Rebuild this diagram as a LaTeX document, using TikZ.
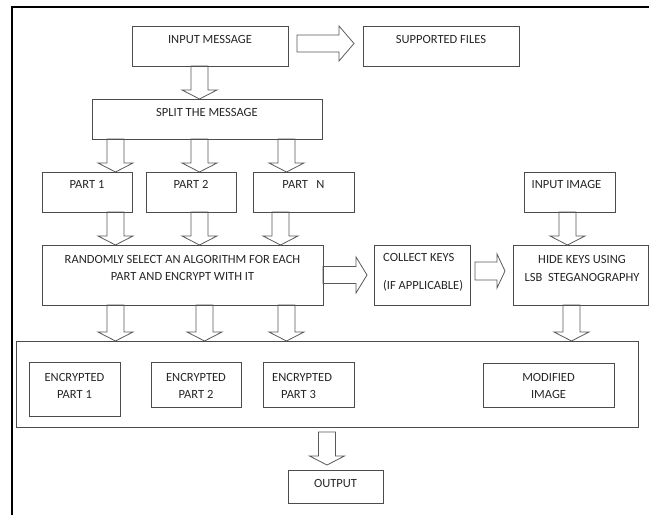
\documentclass[tikz,border=0pt]{standalone}
\usepackage{fontspec}
\setmainfont{Carlito}
\usepackage{tikz}
\usetikzlibrary{calc}

\begin{document}
\begin{tikzpicture}[
  x=1pt, y=-1pt,
  box/.style 2 args={
    draw=black!70,
    line width=0.9pt,
    minimum width=#1,
    minimum height=#2,
    inner sep=0pt,
    outer sep=0pt},
  lbl/.style={
    anchor=north,
    inner sep=0pt,
    align=center,
    text=black!85,
    font=\fontsize{12.5}{17.5}\selectfont},
  pageframe/.style={
    draw=black, line width=1.2pt},
  blk/.style n args={3}{
    draw=black!65, line width=0.8pt,
    to path={
      ($(\tikztostart)!#1!90:(\tikztotarget)$)
      -- ($(\tikztotarget)!#3!(\tikztostart)!#1!90:(\tikztotarget)$)
      -- ($(\tikztotarget)!#3!(\tikztostart)!#2!90:(\tikztotarget)$)
      -- (\tikztotarget)
      -- ($(\tikztotarget)!#3!(\tikztostart)!#2!-90:(\tikztotarget)$)
      -- ($(\tikztotarget)!#3!(\tikztostart)!#1!-90:(\tikztotarget)$)
      -- ($(\tikztostart)!#1!-90:(\tikztotarget)$)
      -- cycle}},
  dn/.style={blk={8.5pt}{17.5pt}{9pt}},
]

  \useasboundingbox (0,0) rectangle (649,515);
  \draw[pageframe] (12,515) -- (12,7) -- (649,7);

    % Message boxes
    \node[box={156pt}{40pt}] (inmsg) at (210,46) {};
    \node[lbl] at ($(inmsg.north)+(0,9)$) {INPUT MESSAGE};
    \node[box={156pt}{40pt}] (supp) at (441,46) {};
    \node[lbl] at ($(supp.north)+(0,9)$) {SUPPORTED FILES};
    \node[box={230pt}{40pt}] (split) at (207,119) {};
    \node[lbl] at ($(split.north)+(0,9)$) {SPLIT THE MESSAGE};

    % Parts
    \node[box={90pt}{40pt}] (part1) at (87,192) {};
    \node[lbl] at ($(part1.north)+(0,8.5)$) {PART 1};
    \node[box={90pt}{40pt}] (part2) at (191,192) {};
    \node[lbl] at ($(part2.north)+(0,8.5)$) {PART 2};
    \node[box={101pt}{40pt}] (partn) at (303.5,192) {};
    \node[lbl] at ($(partn.north)+(0,8.5)$) {PART\ \ \ N};
    \node[box={91pt}{40pt}] (inimg) at (569.5,192) {};
    \node[lbl] at ($(inimg.north)+(-3,8.5)$) {INPUT IMAGE};

    % Encryption and keys
    \node[box={281pt}{60pt}] (rand) at (182.5,275) {};
    \node[lbl] at ($(rand.north)+(0,10)$)
        {RANDOMLY SELECT AN ALGORITHM FOR EACH\\PART AND ENCRYPT WITH IT};
    \node[box={96pt}{60pt}] (collect) at (422,275) {};
    \node[lbl,align=left,anchor=north west] at ($(collect.north west)+(9,8)$)
        {COLLECT KEYS\\[10.5pt](IF APPLICABLE)};
    \node[box={135pt}{60pt}] (hide) at (580.5,275) {};
    \node[lbl] at ($(hide.north)+(1.5,10.5)$)
        {HIDE KEYS USING\\LSB\ \ STEGANOGRAPHY};

    % Result
    \node[box={622pt}{86pt}] (cont) at (327,384) {};
    \node[box={91pt}{54pt}] (enc1) at (74.5,389) {};
    \node[lbl] at ($(enc1.north)+(0,11)$) {ENCRYPTED\\PART 1};
    \node[box={90pt}{45pt}] (enc2) at (196,384.5) {};
    \node[lbl] at ($(enc2.north)+(0,11)$) {ENCRYPTED\\PART 2};
    \node[box={91pt}{45pt}] (enc3) at (308.5,384.5) {};
    \node[lbl,align=left,anchor=north west] at ($(enc3.north west)+(9,11)$)
        {ENCRYPTED\\\hspace*{9pt}PART 3};
    \node[box={131pt}{44pt}] (modimg) at (548.5,385) {};
    \node[lbl] at ($(modimg.north)+(0,10)$) {MODIFIED\\IMAGE};
    \node[box={95pt}{33pt}] (output) at (335.5,486.5) {};
    \node[lbl] at ($(output.north)+(0,9)$) {OUTPUT};

    % Block arrows
    \draw[blk={8.5pt}{17.5pt}{15pt}] ($(inmsg.east)+(9,-2.5)$) 
        to ($(supp.west)+(-9,-2.5)$);
    \draw[dn] (inmsg.south -| 199.5,0) to (split.north -| 199.5,0);
    \foreach \xx/\pp in {115.5/part1, 199.5/part2, 286.5/partn} {
        \draw[dn] (split.south -| \xx,0) to (\pp.north -| \xx,0);
    }
    \foreach \xx/\pp in {115.5/part1, 199.5/part2, 280.5/partn} {
        \draw[dn] (\pp.south -| \xx,0) to (rand.north -| \xx,0);
    }
    \foreach \xx in {115.5, 204.5, 286.5} {
        \draw[dn] (rand.south -| \xx,0) to (cont.north -| \xx,0);
    }
    \draw[blk={8.5pt}{18pt}{11pt}] (rand.east) to ($(collect.west)+(-7,0)$);
    \draw[blk={9pt}{17pt}{8pt}] ($(collect.east)+(5,-4)$) 
        to ($(hide.west)+(-8,-4)$);
    \draw[dn] (inimg.south -| 567.5,0) to (hide.north -| 567.5,0);
    \draw[dn] (hide.south -| 571.5,0) to (cont.north -| 571.5,0);
    \draw[dn] ($(cont.south)+(0,5)$) to ($(cont.south |- output.north)+(0,-5)$);

\end{tikzpicture}
\end{document}
